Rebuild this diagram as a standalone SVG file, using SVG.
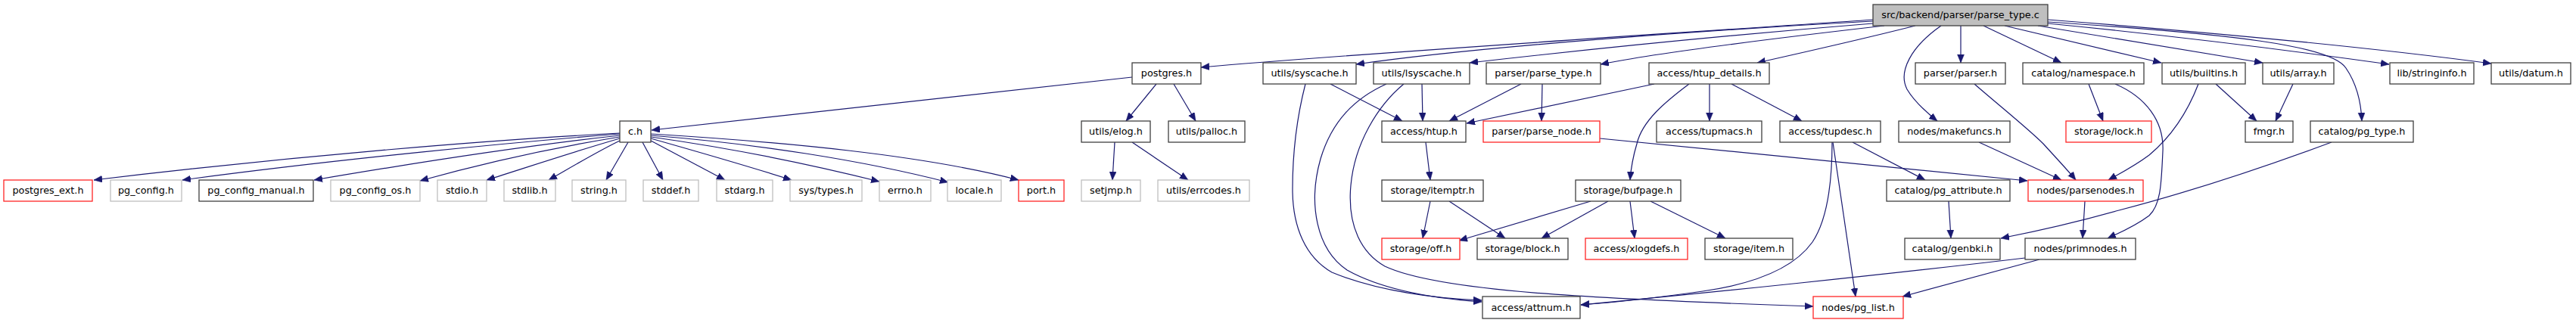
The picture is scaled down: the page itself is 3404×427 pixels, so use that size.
<svg xmlns="http://www.w3.org/2000/svg" width="3404" height="427" viewBox="0 0 3404 427">
<style>
rect{stroke-width:1.3}
.n rect{fill:#fff;stroke:#404040}
.g rect{fill:#fff;stroke:#bfbfbf}
.r rect{fill:#fff;stroke:#ff2626}
.t rect{fill:#bfbfbf;stroke:#404040}
text{font-family:"DejaVu Sans","Liberation Sans",sans-serif;font-size:12.8px;fill:#000;text-anchor:middle}
#edges path{fill:none;stroke:#191970;stroke-width:1.2;marker-end:url(#a)}
</style>
<defs>
<marker id="a" markerUnits="userSpaceOnUse" markerWidth="12" markerHeight="10" refX="11" refY="4.5" orient="auto"><path d="M0,0 L11,4.5 L0,9 z" fill="#191970" stroke="#191970" stroke-width="0.5"/></marker>
</defs>
<rect width="3404" height="427" fill="#fff" style="stroke:none"/>
<g id="edges">
<path d="M2475,26 C2200,45 1800,70 1587,89"/>
<path d="M2475,28 C2250,40 1950,62 1792,85"/>
<path d="M2475,31 C2300,45 2100,65 1942,83"/>
<path d="M2490,34 C2350,50 2200,68 2115,85"/>
<path d="M2531,34 C2460,52 2380,70 2322,83"/>
<path d="M2565,34 C2525,62 2508,95 2520,118 C2530,135 2545,148 2560,160"/>
<path d="M2591,34 L2591,83"/>
<path d="M2621,34 L2724,83"/>
<path d="M2649,34 L2856,83"/>
<path d="M2693,34 L2990,83"/>
<path d="M2706,29 C2950,45 3080,60 3100,90 C3115,112 3120,135 3121,160"/>
<path d="M2706,31 C2900,50 3050,70 3157,85"/>
<path d="M2706,26 C2950,45 3150,65 3292,84"/>
<path d="M1496,102 L861,172"/>
<path d="M1528,111 L1488,160"/>
<path d="M1551,111 L1580,160"/>
<path d="M819,176 C650,185 400,205 124,238"/>
<path d="M819,177 C680,188 450,210 241,238"/>
<path d="M819,179 C700,192 550,215 415,238"/>
<path d="M819,181 C720,197 630,218 555,239"/>
<path d="M819,183 C760,200 700,220 643,238"/>
<path d="M819,186 C790,200 760,218 725,238"/>
<path d="M830,188 L801,238"/>
<path d="M849,188 L876,238"/>
<path d="M860,186 L958,238"/>
<path d="M860,183 C920,200 990,220 1046,238"/>
<path d="M860,181 C960,195 1070,217 1162,240"/>
<path d="M860,179 C1000,190 1140,212 1253,241"/>
<path d="M860,177 C1040,188 1220,205 1346,238"/>
<path d="M1473,188 L1470,238"/>
<path d="M1496,188 L1570,238"/>
<path d="M1758,111 L1853,160"/>
<path d="M1725,111 C1715,150 1708,200 1708,250 C1708,300 1725,340 1760,360 C1820,385 1900,395 1958,397"/>
<path d="M1879,111 L1880,160"/>
<path d="M1832,111 C1790,130 1760,160 1745,210 C1728,270 1740,330 1780,357 C1830,385 1900,395 1958,399"/>
<path d="M1855,111 C1820,140 1790,190 1785,245 C1780,300 1800,335 1830,352 C1900,385 2100,395 2396,405"/>
<path d="M2010,111 L1915,160"/>
<path d="M2038,111 L2037,160"/>
<path d="M2186,111 L1938,163"/>
<path d="M2232,111 C2200,135 2170,160 2163,190 C2157,210 2155,225 2154,238"/>
<path d="M2259,111 L2259,160"/>
<path d="M2288,111 L2381,160"/>
<path d="M2114,183 C2300,202 2500,220 2679,239"/>
<path d="M1884,188 L1890,238"/>
<path d="M2448,188 L2544,238"/>
<path d="M2421,188 C2421,240 2415,290 2395,320 C2370,355 2320,375 2250,385 C2180,395 2130,400 2089,403"/>
<path d="M2422,188 L2452,392"/>
<path d="M2615,188 L2724,238"/>
<path d="M2609,111 C2640,138 2680,170 2700,190 C2720,212 2735,228 2743,238"/>
<path d="M2760,111 L2779,160"/>
<path d="M2795,111 C2835,128 2860,160 2858,200 C2856,240 2856,270 2840,285 C2820,300 2800,308 2785,315"/>
<path d="M2928,111 L2982,160"/>
<path d="M2905,111 C2890,150 2870,180 2840,205 C2820,220 2800,230 2786,238"/>
<path d="M3030,111 L3007,160"/>
<path d="M3081,188 C3000,218 2900,252 2800,278 C2740,295 2690,306 2644,315"/>
<path d="M2575,266 L2578,315"/>
<path d="M2755,266 L2752,315"/>
<path d="M2676,341 C2500,362 2250,388 2089,403"/>
<path d="M2695,343 L2514,392"/>
<path d="M1890,266 L1880,315"/>
<path d="M1915,266 L1989,315"/>
<path d="M2102,266 L1928,318"/>
<path d="M2125,266 L2037,315"/>
<path d="M2154,266 L2160,315"/>
<path d="M2181,266 L2280,315"/>
</g>
<g id="n_top" class="t"><rect x="2475" y="6" width="231" height="28"/><text x="2590.5" y="24">src/backend/parser/parse_type.c</text></g>
<g id="n_postgres" class="n"><rect x="1496" y="83" width="91" height="28"/><text x="1541.5" y="101">postgres.h</text></g>
<g id="n_syscache" class="n"><rect x="1669" y="83" width="123" height="28"/><text x="1730.5" y="101">utils/syscache.h</text></g>
<g id="n_lsyscache" class="n"><rect x="1815" y="83" width="127" height="28"/><text x="1878.5" y="101">utils/lsyscache.h</text></g>
<g id="n_parse_type_h" class="n"><rect x="1964" y="83" width="151" height="28"/><text x="2039.5" y="101">parser/parse_type.h</text></g>
<g id="n_htup_details" class="n"><rect x="2179" y="83" width="159" height="28"/><text x="2258.5" y="101">access/htup_details.h</text></g>
<g id="n_parser" class="n"><rect x="2531" y="83" width="119" height="28"/><text x="2590.5" y="101">parser/parser.h</text></g>
<g id="n_namespace" class="n"><rect x="2673" y="83" width="160" height="28"/><text x="2753" y="101">catalog/namespace.h</text></g>
<g id="n_builtins" class="n"><rect x="2857" y="83" width="110" height="28"/><text x="2912" y="101">utils/builtins.h</text></g>
<g id="n_array" class="n"><rect x="2990" y="83" width="94" height="28"/><text x="3037" y="101">utils/array.h</text></g>
<g id="n_stringinfo" class="n"><rect x="3158" y="83" width="111" height="28"/><text x="3213.5" y="101">lib/stringinfo.h</text></g>
<g id="n_datum" class="n"><rect x="3292" y="83" width="105" height="28"/><text x="3344.5" y="101">utils/datum.h</text></g>
<g id="n_c" class="n"><rect x="819" y="160" width="41" height="28"/><text x="839.5" y="178">c.h</text></g>
<g id="n_elog" class="n"><rect x="1429" y="160" width="91" height="28"/><text x="1474.5" y="178">utils/elog.h</text></g>
<g id="n_palloc" class="n"><rect x="1544" y="160" width="101" height="28"/><text x="1594.5" y="178">utils/palloc.h</text></g>
<g id="n_htup" class="n"><rect x="1826" y="160" width="111" height="28"/><text x="1881.5" y="178">access/htup.h</text></g>
<g id="n_parse_node" class="r"><rect x="1960" y="160" width="154" height="28"/><text x="2037" y="178">parser/parse_node.h</text></g>
<g id="n_tupmacs" class="n"><rect x="2189" y="160" width="139" height="28"/><text x="2258.5" y="178">access/tupmacs.h</text></g>
<g id="n_tupdesc" class="n"><rect x="2352" y="160" width="133" height="28"/><text x="2418.5" y="178">access/tupdesc.h</text></g>
<g id="n_makefuncs" class="n"><rect x="2509" y="160" width="147" height="28"/><text x="2582.5" y="178">nodes/makefuncs.h</text></g>
<g id="n_lock" class="r"><rect x="2730" y="160" width="113" height="28"/><text x="2786.5" y="178">storage/lock.h</text></g>
<g id="n_fmgr" class="n"><rect x="2967" y="160" width="63" height="28"/><text x="2998.5" y="178">fmgr.h</text></g>
<g id="n_pg_type" class="n"><rect x="3053" y="160" width="136" height="28"/><text x="3121" y="178">catalog/pg_type.h</text></g>
<g id="n_postgres_ext" class="r"><rect x="5" y="238" width="117" height="28"/><text x="63.5" y="256">postgres_ext.h</text></g>
<g id="n_pg_config" class="g"><rect x="146" y="238" width="94" height="28"/><text x="193" y="256">pg_config.h</text></g>
<g id="n_pg_config_manual" class="n"><rect x="263" y="238" width="151" height="28"/><text x="338.5" y="256">pg_config_manual.h</text></g>
<g id="n_pg_config_os" class="g"><rect x="437" y="238" width="118" height="28"/><text x="496" y="256">pg_config_os.h</text></g>
<g id="n_stdio" class="g"><rect x="578" y="238" width="65" height="28"/><text x="610.5" y="256">stdio.h</text></g>
<g id="n_stdlib" class="g"><rect x="666" y="238" width="68" height="28"/><text x="700" y="256">stdlib.h</text></g>
<g id="n_string" class="g"><rect x="756" y="238" width="71" height="28"/><text x="791.5" y="256">string.h</text></g>
<g id="n_stddef" class="g"><rect x="850" y="238" width="73" height="28"/><text x="886.5" y="256">stddef.h</text></g>
<g id="n_stdarg" class="g"><rect x="947" y="238" width="74" height="28"/><text x="984" y="256">stdarg.h</text></g>
<g id="n_systypes" class="g"><rect x="1044" y="238" width="95" height="28"/><text x="1091.5" y="256">sys/types.h</text></g>
<g id="n_errno" class="g"><rect x="1162" y="238" width="68" height="28"/><text x="1196" y="256">errno.h</text></g>
<g id="n_locale" class="g"><rect x="1252" y="238" width="71" height="28"/><text x="1287.5" y="256">locale.h</text></g>
<g id="n_port" class="r"><rect x="1346" y="238" width="60" height="28"/><text x="1376" y="256">port.h</text></g>
<g id="n_setjmp" class="g"><rect x="1429" y="238" width="78" height="28"/><text x="1468" y="256">setjmp.h</text></g>
<g id="n_errcodes" class="g"><rect x="1530" y="238" width="121" height="28"/><text x="1590.5" y="256">utils/errcodes.h</text></g>
<g id="n_itemptr" class="n"><rect x="1826" y="238" width="134" height="28"/><text x="1893" y="256">storage/itemptr.h</text></g>
<g id="n_bufpage" class="n"><rect x="2082" y="238" width="139" height="28"/><text x="2151.5" y="256">storage/bufpage.h</text></g>
<g id="n_pg_attribute" class="n"><rect x="2493" y="238" width="163" height="28"/><text x="2574.5" y="256">catalog/pg_attribute.h</text></g>
<g id="n_parsenodes" class="r"><rect x="2680" y="238" width="152" height="28"/><text x="2756" y="256">nodes/parsenodes.h</text></g>
<g id="n_off" class="r"><rect x="1826" y="315" width="103" height="28"/><text x="1877.5" y="333">storage/off.h</text></g>
<g id="n_block" class="n"><rect x="1952" y="315" width="120" height="28"/><text x="2012" y="333">storage/block.h</text></g>
<g id="n_xlogdefs" class="r"><rect x="2095" y="315" width="135" height="28"/><text x="2162.5" y="333">access/xlogdefs.h</text></g>
<g id="n_item" class="n"><rect x="2253" y="315" width="116" height="28"/><text x="2311" y="333">storage/item.h</text></g>
<g id="n_genbki" class="n"><rect x="2517" y="315" width="126" height="28"/><text x="2580" y="333">catalog/genbki.h</text></g>
<g id="n_primnodes" class="n"><rect x="2676" y="315" width="146" height="28"/><text x="2749" y="333">nodes/primnodes.h</text></g>
<g id="n_attnum" class="n"><rect x="1959" y="392" width="129" height="29"/><text x="2023.5" y="411">access/attnum.h</text></g>
<g id="n_pg_list" class="r"><rect x="2396" y="392" width="119" height="29"/><text x="2455.5" y="411">nodes/pg_list.h</text></g>
</svg>
